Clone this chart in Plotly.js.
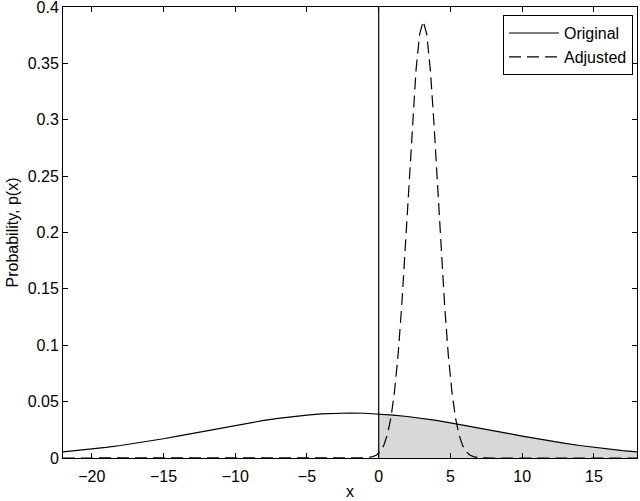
<!DOCTYPE html>
<html>
<head>
<meta charset="utf-8">
<script src="https://cdn.plot.ly/plotly-3.0.1.min.js"></script>
<style>
  html, body { margin: 0; padding: 0; background: #fff; }
  #plot { width: 640px; height: 501px; }
</style>
</head>
<body>
<div id="plot"></div>
<script>
// original distribution
let origX = [-22, -21, -20, -19, -18, -17, -16, -15, -14, -13, -12, -11, -10, -9, -8, -7, -6, -5, -4, -3, -2,
             -1, 0, 1, 2, 3, 4, 5, 6, 7, 8, 9, 10, 11, 12, 13, 14, 15, 16, 17, 18];
let origY = [0.0054, 0.0066, 0.0079, 0.0094, 0.0111, 0.0130, 0.0150, 0.0171, 0.0194, 0.0218, 0.0242, 0.0266,
             0.0290, 0.0312, 0.0333, 0.0352, 0.0368, 0.0381, 0.0391, 0.0397, 0.0399,
             0.0397, 0.0391, 0.0381, 0.0368, 0.0352, 0.0333, 0.0312, 0.0290, 0.0266, 0.0242, 0.0218,
             0.0194, 0.0171, 0.0150, 0.0130, 0.0111, 0.0094, 0.0079, 0.0066, 0.0054];

// adjusted distribution (narrow peak near x = 3.1)
let adjX = [-22, -5, -0.9, -0.4, -0.15, 0.1, 0.35, 0.6, 0.85, 1.1, 1.35, 1.6, 1.85, 2.1, 2.35, 2.6, 2.85, 3.1,
            3.35, 3.6, 3.85, 4.1, 4.35, 4.6, 4.85, 5.1, 5.35, 5.6, 5.85, 6.1, 6.35, 6.6, 6.85, 7.1, 8, 18];
let adjY = [0, 0, 0.0002, 0.0012, 0.0027, 0.0056, 0.0110, 0.0204, 0.0356, 0.0588, 0.0914, 0.1341, 0.1853,
            0.2416, 0.2969, 0.3440, 0.3758, 0.3875,
            0.3758, 0.3440, 0.2969, 0.2416, 0.1853, 0.1341, 0.0914, 0.0588, 0.0356, 0.0204, 0.0110,
            0.0056, 0.0027, 0.0012, 0.0005, 0.0002, 0, 0];

// vertical marker at x = 0
let markX = [0, 0];
let markY = [0, 0.4];

let yTicks = [0, 0.05, 0.1, 0.15, 0.2, 0.25, 0.3, 0.35, 0.4];
let yTickText = ['0', '0.05', '0.1', '0.15', '0.2', '0.25', '0.3', '0.35', '0.4'];
let xTicks = [-20, -15, -10, -5, 0, 5, 10, 15];
let xTickText = ['\u221220', '\u221215', '\u221210', '\u22125', '0', '5', '10', '15'];

// shaded part of the original curve, x >= 0
let shadeX = origX.filter(x => x >= 0);
let shadeY = origY.filter((y, i) => origX[i] >= 0);

let shade = {
  x: shadeX, y: shadeY,
  mode: 'lines', fill: 'tozeroy',
  fillcolor: 'rgb(216,216,216)',
  line: { width: 0, color: 'rgba(0,0,0,0)' },
  showlegend: false, hoverinfo: 'skip'
};

let original = {
  x: origX, y: origY,
  mode: 'lines', name: 'Original',
  line: { color: 'black', width: 1.2 }
};

let adjusted = {
  x: adjX, y: adjY,
  mode: 'lines', name: 'Adjusted',
  line: { color: 'black', width: 1.2, dash: '12px,6px' }
};

let marker = {
  x: markX, y: markY,
  mode: 'lines', showlegend: false,
  line: { color: 'black', width: 1.2 }
};

let font = { family: 'Liberation Sans, Arial, sans-serif', size: 16, color: 'black' };

let layout = {
  width: 640, height: 501,
  margin: { l: 63, r: 3, t: 7, b: 43 },
  paper_bgcolor: 'white', plot_bgcolor: 'white',
  font: font,
  showlegend: true,
  legend: {
    x: 0.993, y: 0.982, xanchor: 'right', yanchor: 'top',
    bgcolor: 'white', bordercolor: 'black', borderwidth: 1,
    font: font,
    itemwidth: 50, tracegroupgap: 0
  },
  xaxis: {
    range: [-22, 18],
    tickvals: xTicks, ticktext: xTickText,
    ticks: 'inside', ticklen: 5, tickcolor: 'black',
    ticklabelstandoff: 4,
    showline: true, linecolor: 'black', linewidth: 1, mirror: 'ticks',
    showgrid: false, zeroline: false, automargin: false,
    title: { text: 'x', font: font, standoff: 1 }
  },
  yaxis: {
    range: [0, 0.4],
    tickvals: yTicks, ticktext: yTickText,
    ticks: 'inside', ticklen: 5, tickcolor: 'black',
    ticklabeloverflow: 'allow',
    showline: true, linecolor: 'black', linewidth: 1, mirror: 'ticks',
    showgrid: false, zeroline: false, automargin: false,
    title: { text: 'Probability, p(x)', font: font, standoff: 5 }
  }
};

Plotly.newPlot('plot', [shade, original, adjusted, marker], layout, { displayModeBar: false, staticPlot: true });
</script>
</body>
</html>
